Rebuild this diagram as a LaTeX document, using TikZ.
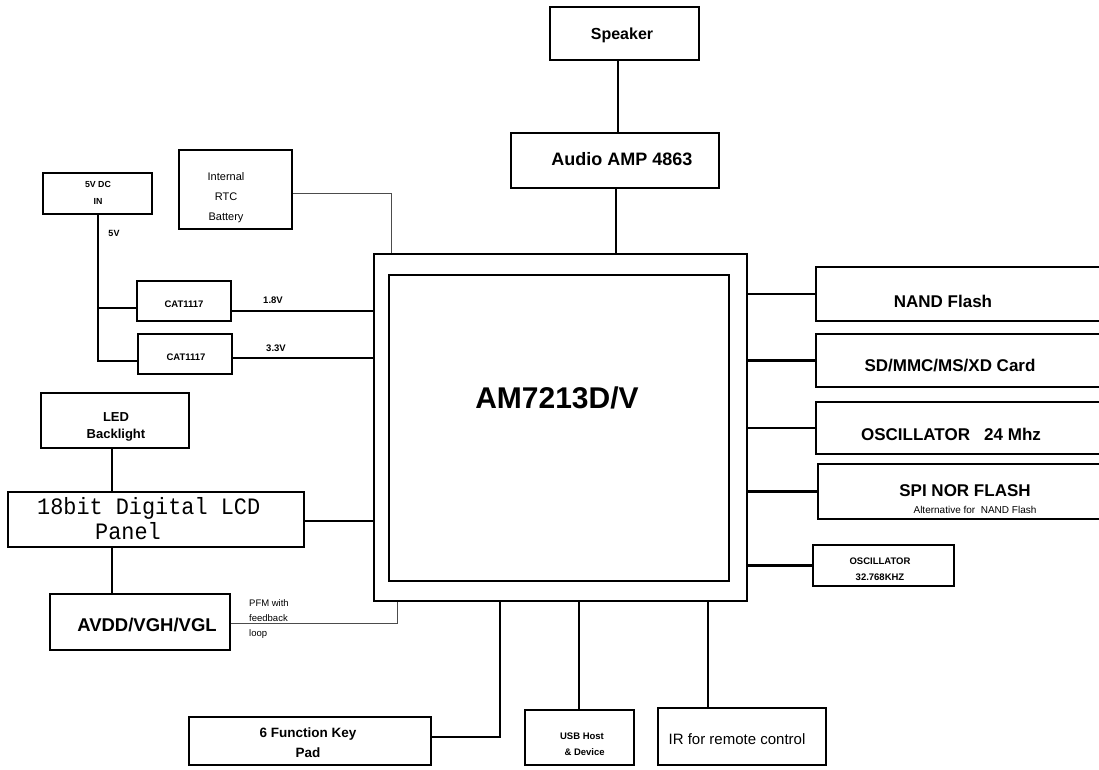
\documentclass[tikz,border=0pt]{standalone}
\usepackage{fontspec}
\setmainfont{Liberation Sans}
\newfontfamily\lcdfont{Liberation Mono}
\newcommand\fsz[2]{\fontsize{#1}{#2}\selectfont}
\begin{document}
\begin{tikzpicture}[x=1pt,y=-1pt,
  box/.style={draw, line width=2.9pt, inner sep=0pt},
  wire/.style={line width=2.9pt},
  thinwire/.style={line width=1pt, draw=black!70},
  lbl/.style={inner sep=0pt, align=center}]
\useasboundingbox (0,0) rectangle (1099,769);
\clip (0,0) rectangle (1099,769);
\fill[white] (0,0) rectangle (1099,769);

% ---------- boxes ----------
\node[box, minimum width=149pt, minimum height=53pt] (speaker) at (624.5,33.5) {};
\node[box, minimum width=208pt, minimum height=55pt] (amp) at (615,160.5) {};
\node[box, minimum width=373pt, minimum height=347pt] (chipo) at (560.5,427.5) {};
\node[box, minimum width=340pt, minimum height=306pt] (chipi) at (559,428) {};
\node[box, minimum width=109pt, minimum height=41pt] (dcin) at (97.5,193.5) {};
\node[box, minimum width=113pt, minimum height=79pt] (rtc) at (235.5,189.5) {};
\node[box, minimum width=94pt, minimum height=40pt] (cat1) at (184,301) {};
\node[box, minimum width=94pt, minimum height=40pt] (cat2) at (185,354) {};
\node[box, minimum width=148pt, minimum height=55pt] (led) at (115,420.5) {};
\node[box, minimum width=296pt, minimum height=55pt] (lcd) at (156,519.5) {};
\node[box, minimum width=180pt, minimum height=56pt] (avdd) at (140,622) {};
\node[box, minimum width=314pt, minimum height=54pt] (nand) at (973,294) {};
\node[box, minimum width=314pt, minimum height=53pt] (sd) at (973,360.5) {};
\node[box, minimum width=314pt, minimum height=52pt] (osca) at (973,428) {};
\node[box, minimum width=312pt, minimum height=55pt] (spi) at (974,491.5) {};
\node[box, minimum width=141pt, minimum height=41pt] (oscb) at (883.5,565.5) {};
\node[box, minimum width=242pt, minimum height=48pt] (keypad) at (310,741) {};
\node[box, minimum width=109pt, minimum height=55pt] (usb) at (579.5,737.5) {};
\node[box, minimum width=168pt, minimum height=57pt] (ir) at (742,736.5) {};

% ---------- labels ----------
\node[lbl, font=\bfseries\fsz{16}{19}] (speaker-t) at (622,35.5) {Speaker};
\node[lbl, font=\bfseries\fsz{18}{21}] (amp-t) at (622,159) {Audio AMP 4863};
\node[lbl, font=\bfseries\fsz{30}{34}] (chip-t) at (557,398) {AM7213D/V};
\node[lbl, font=\bfseries\fsz{8.8}{17}] (dcin-t) at (98,192.5) {5V DC\\IN};
\node[lbl, font=\bfseries\fsz{9}{11}] (v5-t) at (114,233) {5V};
\node[lbl, font=\fsz{11}{20}] (rtc-t) at (226,198) {Internal\\RTC\\Battery};
\node[lbl, font=\bfseries\fsz{9.5}{11}] (cat1-t) at (184,304) {CAT1117};
\node[lbl, font=\bfseries\fsz{9.5}{11}] (cat2-t) at (186,357) {CAT1117};
\node[lbl, font=\bfseries\fsz{9.5}{11}] (v18-t) at (273,300) {1.8V};
\node[lbl, font=\bfseries\fsz{9.5}{11}] (v33-t) at (276,348) {3.3V};
\node[lbl, font=\bfseries\fsz{13}{17}] (led-t) at (116,427) {LED\\Backlight};
\node[lbl, anchor=base west, font=\lcdfont\fsz{23.5}{22}] (lcd-t1) at (37,514) {\scalebox{0.93}[1]{18bit Digital LCD}};
\node[lbl, anchor=base west, font=\lcdfont\fsz{23.5}{22}] (lcd-t2) at (95,539) {\scalebox{0.93}[1]{Panel}};
\node[lbl, font=\bfseries\fsz{18.5}{21}] (avdd-t) at (147,625) {AVDD/VGH/VGL};
\node[lbl, anchor=west, align=left, font=\fsz{9.5}{15}] (pfm-t) at (249,619) {PFM with\\feedback\\loop};
\node[lbl, font=\bfseries\fsz{17}{20}] (nand-t) at (943,301) {NAND Flash};
\node[lbl, font=\bfseries\fsz{17}{20}] (sd-t) at (950,366) {SD/MMC/MS/XD Card};
\node[lbl, font=\bfseries\fsz{17}{20}] (osca-t) at (951,434) {OSCILLATOR\ \ \ 24 Mhz};
\node[lbl, font=\bfseries\fsz{17}{20}] (spi-t) at (965,491) {SPI NOR FLASH};
\node[lbl, font=\fsz{10}{12}] (alt-t) at (975,510) {Alternative for\ \ NAND Flash};
\node[lbl, font=\bfseries\fsz{9.5}{16}] (oscb-t) at (880,569) {OSCILLATOR\\32.768KHZ};
\node[lbl, font=\bfseries\fsz{13.5}{20}] (keypad-t) at (308,743) {6 Function Key\\Pad};
\node[lbl, font=\bfseries\fsz{9.5}{16}] (usb-t) at (582,744) {USB Host\\\ \ \& Device};
\node[lbl, font=\fsz{15}{18}] (ir-t) at (737,739) {IR for remote control};

% ---------- helper coordinates ----------
\coordinate (xspk) at (618,0);
\coordinate (xamp) at (616,0);
\coordinate (xdc) at (98,0);
\coordinate (jc1) at (0,308);
\coordinate (jc2) at (0,361);
\coordinate (y18) at (0,311);
\coordinate (y33) at (0,358);
\coordinate (rtcj) at (391,193);
\coordinate (xled) at (112,0);
\coordinate (ylcd) at (0,521);
\coordinate (pfmj) at (397,623);
\coordinate (kpj) at (500,737);
\coordinate (xusb) at (579,0);
\coordinate (xir) at (708,0);

% ---------- connectors ----------
\draw[wire] (speaker.south -| xspk) -- (amp.north -| xspk);
\draw[wire] (amp.south -| xamp) -- (chipo.north -| xamp);
\draw[wire] (dcin.south -| xdc) -- (xdc |- jc2) -- (cat2.west |- jc2);
\draw[wire] (xdc |- jc1) -- (cat1.west |- jc1);
\draw[wire] (cat1.east |- y18) -- (chipo.west |- y18);
\draw[wire] (cat2.east |- y33) -- (chipo.west |- y33);
\draw[thinwire] (rtc.east |- rtcj) -- (rtcj) -- (rtcj |- chipo.north);
\draw[wire] (led.south -| xled) -- (lcd.north -| xled);
\draw[wire] (lcd.south -| xled) -- (avdd.north -| xled);
\draw[wire] (lcd.east |- ylcd) -- (chipo.west |- ylcd);
\draw[thinwire] (avdd.east |- pfmj) -- (pfmj) -- (pfmj |- chipo.south);
\draw[wire] (keypad.east |- kpj) -- (kpj) -- (kpj |- chipo.south);
\draw[wire] (chipo.south -| xusb) -- (usb.north -| xusb);
\draw[wire] (chipo.south -| xir) -- (ir.north -| xir);
\draw[wire] (chipo.east |- nand.west) -- (nand.west);
\draw[wire] (chipo.east |- sd.west) -- (sd.west);
\draw[wire] (chipo.east |- osca.west) -- (osca.west);
\draw[wire] (chipo.east |- spi.west) -- (spi.west);
\draw[wire] (chipo.east |- oscb.west) -- (oscb.west);
\end{tikzpicture}
\end{document}
